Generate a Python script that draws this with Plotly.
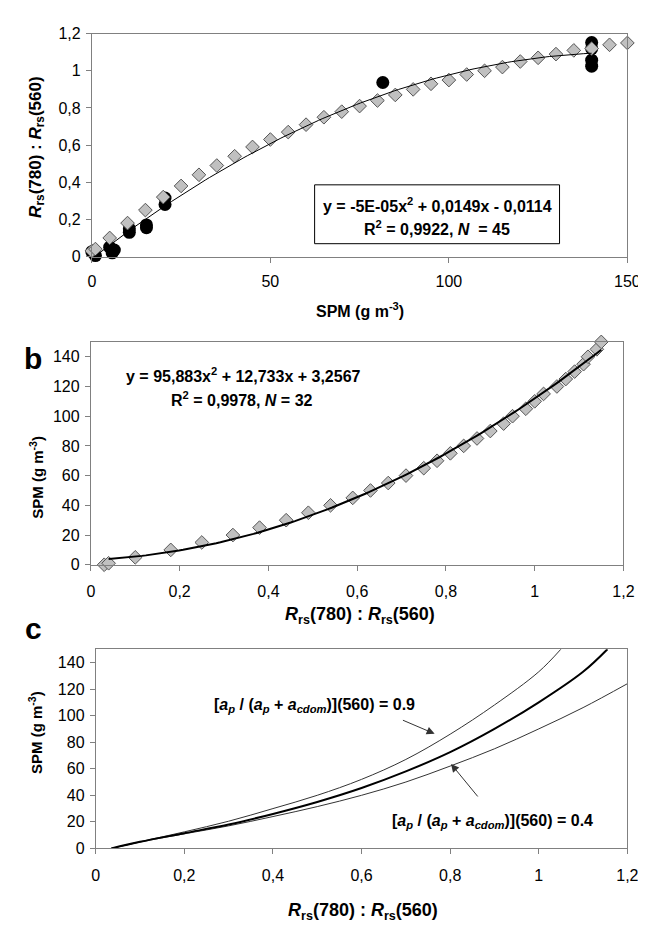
import plotly.graph_objects as go

# ---------------- data ----------------
# Panel a: gray diamonds (model) and black circles (field), SPM vs ratio
dia_spm = [0, 1, 5, 10, 15, 20, 25, 30, 35, 40, 45, 50, 55, 60, 65, 70, 75, 80,
           85, 90, 95, 100, 105, 110, 115, 120, 125, 130, 135, 140, 145, 150]
dia_ratio = [0.03, 0.04, 0.10, 0.18, 0.25, 0.32, 0.38, 0.44, 0.49, 0.54, 0.59, 0.63,
             0.67, 0.71, 0.75, 0.78, 0.81, 0.84, 0.87, 0.90, 0.93, 0.95, 0.98, 1.00,
             1.02, 1.05, 1.07, 1.09, 1.11, 1.12, 1.14, 1.15]
circ_spm = [0, 1, 5, 5.7, 6.3, 10.5, 10.5, 15.3, 15.3, 20.5, 20.5, 81.5, 140, 140, 140, 140]
circ_ratio = [0.026, 0.005, 0.05, 0.02, 0.035, 0.13, 0.15, 0.155, 0.17, 0.28, 0.315,
              0.937, 1.152, 1.12, 1.057, 1.025]
fit_a_coef = [-5e-05, 0.0149, -0.0114]   # y = a x^2 + b x + c
fit_a_range = [0, 140]

# Panel b: fit y = 95,883x^2 + 12,733x + 3,2567
fit_b_coef = [95.883, 12.733, 3.2567]
fit_b_range = [0.04, 1.15]

# Panel c curves
c_mid_x = [0.035, 0.1, 0.2, 0.3, 0.4, 0.5, 0.6, 0.7, 0.8, 0.9, 1.0, 1.1, 1.155]
c_mid_y = [0, 5, 11.5, 18, 26, 35, 45.5, 58, 72.5, 90, 110, 133, 150]
c_hi_x = [0.035, 0.1, 0.2, 0.3, 0.4, 0.5, 0.6, 0.7, 0.8, 0.9, 1.0, 1.05]
c_hi_y = [0, 5, 12.5, 20.5, 30, 40, 52, 67, 86, 108, 133, 150]
c_lo_x = [0.035, 0.1, 0.2, 0.3, 0.4, 0.5, 0.6, 0.7, 0.8, 0.9, 1.0, 1.1, 1.2]
c_lo_y = [0, 4.8, 11, 17, 24, 31.5, 40, 50, 62, 75, 90, 106, 124]

ratio_ticks = [0, 0.2, 0.4, 0.6, 0.8, 1.0, 1.2]
ratio_ticktext = ["0", "0,2", "0,4", "0,6", "0,8", "1", "1,2"]
spm_ticks_a = [0, 50, 100, 150]
spm_ticks_bc = [0, 20, 40, 60, 80, 100, 120, 140]

# ---------------- helpers ----------------
W, H = 646, 927
FONT = "Liberation Sans, Arial, sans-serif"

def px(x):
    return x / W

def py(y):
    return 1 - y / H

def poly(coef, lo, hi, n=120):
    xs = [lo + (hi - lo) * i / (n - 1) for i in range(n)]
    ys = [coef[0] * x * x + coef[1] * x + coef[2] for x in xs]
    return xs, ys

fig = go.Figure()

dia_marker = dict(symbol="diamond", size=10.5, color="#c0c0c0",
                  line=dict(color="#555555", width=1))

# panel a
fig.add_trace(go.Scatter(x=circ_spm, y=circ_ratio, mode="markers", cliponaxis=False,
                         marker=dict(symbol="circle", size=13, color="black"),
                         xaxis="x", yaxis="y", showlegend=False))
fig.add_trace(go.Scatter(x=dia_spm, y=dia_ratio, mode="markers", marker=dia_marker,
                         cliponaxis=False, xaxis="x", yaxis="y", showlegend=False))
fa_x, fa_y = poly(fit_a_coef, *fit_a_range)
fig.add_trace(go.Scatter(x=fa_x, y=fa_y, mode="lines", line=dict(color="black", width=1),
                         xaxis="x", yaxis="y", showlegend=False))

# panel b
fig.add_trace(go.Scatter(x=dia_ratio, y=dia_spm, mode="markers", marker=dia_marker,
                         cliponaxis=False, xaxis="x2", yaxis="y2", showlegend=False))
fb_x, fb_y = poly(fit_b_coef, *fit_b_range)
fig.add_trace(go.Scatter(x=fb_x, y=fb_y, mode="lines", line=dict(color="black", width=2),
                         xaxis="x2", yaxis="y2", showlegend=False))

# panel c
fig.add_trace(go.Scatter(x=c_hi_x, y=c_hi_y, mode="lines", line=dict(color="#333333", width=1, shape="spline"),
                         xaxis="x3", yaxis="y3", showlegend=False))
fig.add_trace(go.Scatter(x=c_lo_x, y=c_lo_y, mode="lines", line=dict(color="#333333", width=1, shape="spline"),
                         xaxis="x3", yaxis="y3", showlegend=False))
fig.add_trace(go.Scatter(x=c_mid_x, y=c_mid_y, mode="lines", line=dict(color="black", width=2, shape="spline"),
                         xaxis="x3", yaxis="y3", showlegend=False))

axis_common = dict(showline=True, linecolor="#808080", linewidth=1, mirror=True,
                   ticks="outside", ticklen=5, tickcolor="#808080", showgrid=False,
                   zeroline=False, tickfont=dict(family=FONT, size=16, color="black"))

fig.update_layout(
    width=W, height=H, margin=dict(l=0, r=0, t=0, b=0),
    paper_bgcolor="white", plot_bgcolor="white",
    font=dict(family=FONT, color="black"),
    xaxis=dict(domain=[px(82), px(632)], range=[0, 150], tickvals=spm_ticks_a,
               anchor="y", ticklabelstandoff=5, **axis_common),
    yaxis=dict(domain=[py(245), py(18)], range=[0, 1.2], tickvals=ratio_ticks,
               ticktext=ratio_ticktext, anchor="x", ticklabelstandoff=2, **axis_common),
    xaxis2=dict(domain=[px(81), px(628)], range=[0, 1.2], tickvals=ratio_ticks,
                ticktext=ratio_ticktext, anchor="y2", ticklabelstandoff=7, **axis_common),
    yaxis2=dict(domain=[py(559), py(332)], range=[0, 150], tickvals=spm_ticks_bc,
                anchor="x2", ticklabelstandoff=2, **axis_common),
    xaxis3=dict(domain=[px(86), px(632)], range=[0, 1.2], tickvals=ratio_ticks,
                ticktext=ratio_ticktext, anchor="y3", ticklabelstandoff=7, **axis_common),
    yaxis3=dict(domain=[py(848), py(645)], range=[0, 150], tickvals=spm_ticks_bc,
                anchor="x3", ticklabelstandoff=2, **axis_common),
)

rrs_title = "<b><i>R</i><sub>rs</sub>(780) : <i>R</i><sub>rs</sub>(560)</b>"
spm_title = "<b>SPM (g m<sup>-3</sup>)</b>"
ap_9 = "<b>[<i>a<sub>p</sub></i> / (<i>a<sub>p</sub></i> + <i>a<sub>cdom</sub></i>)](560) = 0.9</b>"
ap_4 = "<b>[<i>a<sub>p</sub></i> / (<i>a<sub>p</sub></i> + <i>a<sub>cdom</sub></i>)](560) = 0.4</b>"

ann = []
def paper_text(text, x, y, size, angle=0, xanchor="center"):
    ann.append(dict(text=text, x=px(x), y=py(y), xref="paper", yref="paper",
                    showarrow=False, textangle=angle, xanchor=xanchor, yanchor="middle",
                    font=dict(family=FONT, size=size, color="black")))

# axis titles
paper_text(rrs_title, 25, 133, 17, -90)
paper_text(spm_title, 357, 300, 16)
paper_text(spm_title, 25, 470, 15, -90)
paper_text(rrs_title, 357, 611, 18)
paper_text(spm_title, 24, 730, 15, -90)
paper_text(rrs_title, 360, 912, 18)
# panel letters
paper_text("<b>b</b>", 22, 349, 30)
paper_text("<b>c</b>", 22, 624, 30)

EQ = 16
# panel a equation box
ann.append(dict(text="<b>y = -5E-05x<sup>2</sup> + 0,0149x - 0,0114</b>", x=96.7, y=0.28,
                xref="x", yref="y", showarrow=False, font=dict(family=FONT, size=EQ)))
ann.append(dict(text="<b>R<sup>2</sup> = 0,9922, <i>N</i>  = 45</b>", x=96.7, y=0.153,
                xref="x", yref="y", showarrow=False, font=dict(family=FONT, size=EQ)))
# panel b equation
ann.append(dict(text="<b>y = 95,883x<sup>2</sup> + 12,733x + 3,2567</b>", x=0.343, y=128,
                xref="x2", yref="y2", showarrow=False, font=dict(family=FONT, size=EQ)))
ann.append(dict(text="<b>R<sup>2</sup> = 0,9978, <i>N</i> = 32</b>", x=0.34, y=111.5,
                xref="x2", yref="y2", showarrow=False, font=dict(family=FONT, size=EQ)))
# panel c labels + arrows
ann.append(dict(text=ap_9, x=0.725, y=107.5, xref="x3", yref="y3", xanchor="right",
                showarrow=False, font=dict(family=FONT, size=EQ)))
ann.append(dict(text=ap_4, x=0.895, y=20.5, xref="x3", yref="y3", xanchor="center",
                showarrow=False, font=dict(family=FONT, size=EQ)))
ann.append(dict(text="", x=0.765, y=86.3, ax=0.69, ay=97, xref="x3", yref="y3",
                axref="x3", ayref="y3", showarrow=True, arrowhead=2, arrowsize=1.6,
                arrowwidth=1, arrowcolor="#333333"))
ann.append(dict(text="", x=0.802, y=63.6, ax=0.865, ay=38, xref="x3", yref="y3",
                axref="x3", ayref="y3", showarrow=True, arrowhead=2, arrowsize=1.6,
                arrowwidth=1, arrowcolor="#333333"))

fig.update_layout(annotations=ann)
fig.add_shape(type="rect", x0=62.4, x1=131, y0=0.069, y1=0.386, xref="x", yref="y",
              line=dict(color="black", width=1), fillcolor="white", layer="above")

fig.write_html("out.html")
